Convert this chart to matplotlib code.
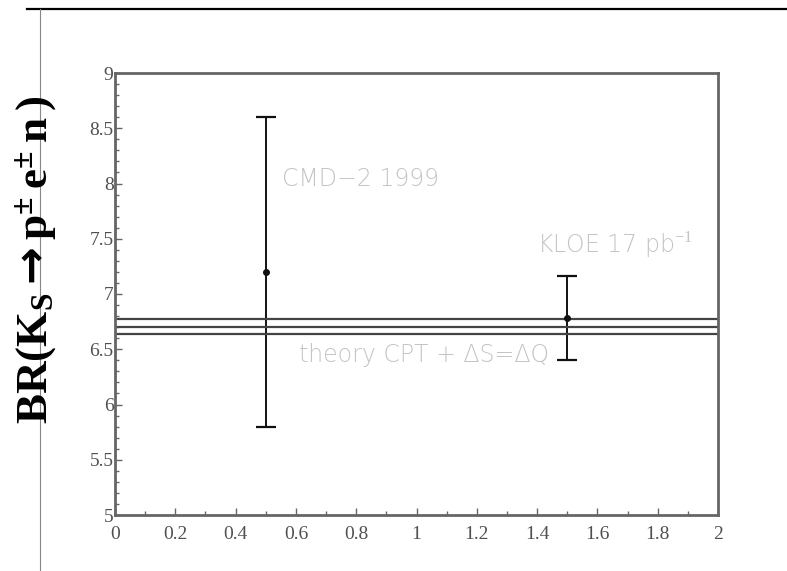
import matplotlib.pyplot as plt
from matplotlib.lines import Line2D
from matplotlib.ticker import MultipleLocator

plt.rcParams["mathtext.fontset"] = "custom"
plt.rcParams["mathtext.rm"] = "Liberation Serif"
plt.rcParams["mathtext.bf"] = "Liberation Serif:bold"
plt.rcParams["mathtext.sf"] = "DejaVu Sans:bold"

# measurements: position, central value, error
meas_x = [0.5, 1.5]
meas_val = [7.2, 6.78]
meas_err = [1.4, 0.38]
meas_names = ["CMD\u22122 1999", "KLOE 17 pb$^{-1}$"]

# theory band (central, +/- error)
theory_val = 6.705
theory_err = 0.067

W, H = 787, 571
fig = plt.figure(figsize=(W / 100, H / 100), dpi=100)
ax = fig.add_axes([115 / W, 1 - 515 / H, (718 - 115) / W, (515 - 73) / H])

frame_col = "#666666"
ax.errorbar(meas_x, meas_val, yerr=meas_err, fmt="o", color="#111111",
            markersize=4, elinewidth=1.4, capsize=7, capthick=1.6)

for v in (theory_val - theory_err, theory_val, theory_val + theory_err):
    ax.axhline(v, color="#444444", lw=1.6)

ax.set_xlim(0, 2)
ax.set_ylim(5, 9)
ax.xaxis.set_minor_locator(MultipleLocator(0.1))
ax.yaxis.set_minor_locator(MultipleLocator(0.1))
ax.tick_params(which="both", direction="in", color=frame_col, width=1,
               labelcolor="#505050", labelsize=14)
ax.tick_params(which="major", length=5)
ax.tick_params(which="minor", length=3)
ax.tick_params(axis="x", pad=8)
ax.tick_params(axis="y", pad=1)
xt = [0, 0.2, 0.4, 0.6, 0.8, 1, 1.2, 1.4, 1.6, 1.8, 2]
yt = [5, 5.5, 6, 6.5, 7, 7.5, 8, 8.5, 9]
ax.set_xticks(xt)
ax.set_xticklabels([f"{v:g}" for v in xt], family="Liberation Serif")
ax.set_yticks(yt)
ax.set_yticklabels([f"{v:g}" for v in yt], family="Liberation Serif")
for s in ax.spines.values():
    s.set_color(frame_col)
    s.set_linewidth(2)

# annotations
txt_kw = dict(color="#c4c4c4", fontsize=17, family="DejaVu Sans", weight="light")
ax.text(0.555, 8.04, meas_names[0], va="center", ha="left", **txt_kw)
ax.text(1.40, 7.44, meas_names[1], va="center", ha="left", **txt_kw)
ax.text(0.61, 6.45, "theory CPT + \u0394S=\u0394Q", va="center", ha="left", **txt_kw)

# y axis title
fig.text(36 / W, 1 - 260 / H,
         "$\\mathbf{BR(K_S}\\,\\mathsf{\u2192}\\,\\mathbf{p^{\\pm}\\,e^{\\pm}\\,n\\,)}$",
         rotation=90, ha="center", va="center", fontsize=32.5)

# page decorations
fig.add_artist(Line2D([27 / W, 1], [1 - 9 / H, 1 - 9 / H], color="black", lw=1.6))
fig.add_artist(Line2D([40 / W, 40 / W], [0, 1 - 9 / H], color="#888888", lw=0.8))

fig.savefig("out.png", dpi=100)
